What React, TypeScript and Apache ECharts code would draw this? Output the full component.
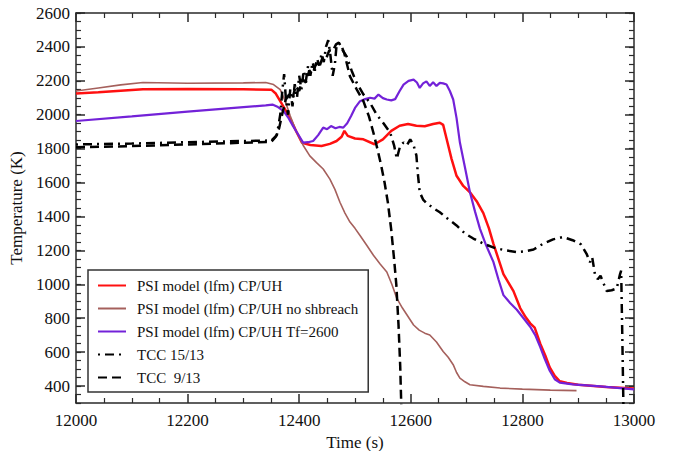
import React, { useEffect, useRef } from "react";
import * as echarts from "echarts";

const FONT = "'Liberation Serif', 'DejaVu Serif', serif";

const seriesNames = [
  "PSI model (lfm) CP/UH",
  "PSI model (lfm) CP/UH no shbreach",
  "PSI model (lfm) CP/UH Tf=2600",
  "TCC 15/13",
  "TCC  9/13",
];

const yMajorTicks = [400, 600, 800, 1000, 1200, 1400, 1600, 1800, 2000, 2200, 2400, 2600];

const redTime = [12000, 12040, 12080, 12120, 12200, 12300, 12350, 12358, 12366, 12375, 12385, 12395, 12405, 12420, 12440, 12455, 12467, 12476, 12481, 12487, 12500, 12515, 12535, 12550, 12565, 12580, 12595, 12610, 12625, 12640, 12652, 12658, 12664, 12673, 12682, 12694, 12706, 12718, 12730, 12740, 12748, 12757, 12766, 12775, 12784, 12796, 12806, 12814, 12822, 12832, 12841, 12849, 12858, 12867, 12880, 12900, 12950, 13000];
const redTemp = [2125, 2132, 2142, 2150, 2152, 2150, 2148, 2125, 2080, 2030, 1970, 1900, 1835, 1822, 1816, 1828, 1845, 1870, 1905, 1875, 1860, 1855, 1826, 1855, 1905, 1935, 1945, 1935, 1932, 1945, 1953, 1940, 1860, 1740, 1640, 1580, 1543, 1490, 1420, 1330, 1240, 1150, 1060, 1010, 960, 860, 805, 770, 745, 650, 580, 510, 460, 428, 418, 408, 395, 385];

const brownTime = [12000, 12040, 12080, 12120, 12200, 12300, 12340, 12354, 12366, 12375, 12384, 12395, 12407, 12419, 12431, 12443, 12455, 12464, 12473, 12482, 12491, 12500, 12509, 12521, 12533, 12545, 12557, 12566, 12575, 12585, 12595, 12605, 12615, 12625, 12634, 12646, 12658, 12667, 12676, 12682, 12688, 12697, 12706, 12730, 12760, 12800, 12850, 12897];
const brownTemp = [2140, 2158, 2176, 2190, 2186, 2188, 2190, 2178, 2148, 2080, 1992, 1900, 1820, 1757, 1718, 1680, 1620, 1560, 1484, 1420, 1367, 1330, 1288, 1230, 1171, 1120, 1073, 1000, 917, 860, 810, 760, 730, 712, 701, 660, 604, 570, 526, 480, 447, 425, 408, 398, 388, 382, 376, 373];

const purpleTime = [12000, 12100, 12200, 12300, 12340, 12352, 12362, 12372, 12380, 12389, 12398, 12407, 12416, 12425, 12434, 12443, 12450, 12457, 12465, 12472, 12479, 12486, 12493, 12500, 12509, 12518, 12527, 12535, 12542, 12550, 12557, 12565, 12572, 12580, 12587, 12596, 12605, 12611, 12616, 12622, 12628, 12634, 12640, 12646, 12652, 12658, 12664, 12670, 12676, 12682, 12688, 12697, 12706, 12715, 12724, 12735, 12748, 12757, 12766, 12778, 12790, 12802, 12814, 12823, 12832, 12840, 12849, 12858, 12867, 12890, 12940, 13000];
const purpleTemp = [1963, 1990, 2018, 2045, 2055, 2060, 2045, 2021, 1985, 1933, 1885, 1836, 1838, 1845, 1880, 1924, 1915, 1933, 1920, 1928, 1924, 1950, 1992, 2040, 2080, 2092, 2100, 2095, 2119, 2098, 2090, 2085, 2092, 2140, 2178, 2200, 2207, 2190, 2158, 2185, 2197, 2170, 2192, 2170, 2188, 2185, 2178, 2140, 2090, 1980, 1836, 1690, 1543, 1430, 1327, 1230, 1132, 1030, 936, 890, 850, 800, 750, 700, 630, 560, 490, 440, 420, 410, 398, 380];

const tcc15Time = [12000, 12100, 12200, 12300, 12350, 12360, 12366, 12370, 12373, 12376, 12380, 12384, 12388, 12392, 12396, 12400, 12404, 12408, 12412, 12416, 12420, 12424, 12428, 12432, 12436, 12440, 12444, 12448, 12452, 12456, 12460, 12464, 12467, 12472, 12478, 12485, 12494, 12503, 12515, 12527, 12539, 12551, 12563, 12570, 12575, 12578, 12581, 12587, 12593, 12599, 12605, 12610, 12613, 12616, 12622, 12628, 12640, 12652, 12665, 12682, 12697, 12712, 12730, 12750, 12770, 12790, 12805, 12820, 12837, 12855, 12873, 12890, 12905, 12915, 12921, 12925, 12930, 12935, 12940, 12951, 12960, 12969, 12975, 12977, 12979, 12981];
const tcc15Temp = [1825, 1830, 1838, 1845, 1848, 1880, 2000, 2150, 2240, 2100, 2000, 2150, 2050, 2180, 2100, 2230, 2150, 2260, 2200, 2290, 2230, 2310, 2260, 2330, 2290, 2360, 2310, 2400, 2440, 2350, 2230, 2300, 2412, 2420, 2380, 2344, 2260, 2188, 2120, 2070, 2000, 1950, 1894, 1820, 1740, 1780, 1816, 1836, 1820, 1855, 1820, 1760, 1640, 1543, 1500, 1480, 1450, 1425, 1390, 1347, 1300, 1270, 1240, 1215, 1200, 1190, 1195, 1205, 1239, 1265, 1279, 1260, 1235, 1180, 1130, 1160, 1060, 1030, 1050, 960, 965, 975, 1060, 1080, 700, 290];

const tcc9Time = [12000, 12100, 12200, 12300, 12350, 12358, 12364, 12370, 12376, 12382, 12388, 12394, 12400, 12406, 12412, 12418, 12424, 12430, 12436, 12442, 12448, 12454, 12460, 12466, 12471, 12476, 12481, 12491, 12503, 12515, 12525, 12533, 12540, 12547, 12553, 12559, 12565, 12570, 12574, 12578, 12581, 12583];
const tcc9Temp = [1808, 1815, 1825, 1835, 1840, 1870, 1920, 2010, 2090, 2120, 2100, 2170, 2140, 2210, 2190, 2260, 2240, 2300, 2280, 2340, 2330, 2380, 2375, 2415, 2425, 2405, 2360, 2226, 2150, 2080, 1990, 1894, 1800, 1700, 1600, 1480, 1320, 1150, 1000, 760, 520, 280];

const zip = (xs: number[], ys: number[]) => xs.map((x, i) => [x, ys[i]]);

const AXIS_COLOR = "#2a2a2a";
const TEXT_COLOR = "#111";
const plain = (v: number) => String(v);

export default function App() {
  const ref = useRef<HTMLDivElement>(null);
  useEffect(() => {
    if (!ref.current) return;
    const chart = echarts.init(ref.current, undefined, { renderer: "svg" });
    const axisLine = { show: true, lineStyle: { color: AXIS_COLOR, width: 1.5 } };
    const xCommon = {
      type: "value" as const,
      min: 12000,
      max: 13000,
      interval: 200,
      splitLine: { show: false },
      axisLine,
      axisTick: { show: true, inside: true, length: 9, lineStyle: { color: AXIS_COLOR, width: 1.5 } },
      minorTick: { show: true, splitNumber: 4, length: 5, lineStyle: { color: AXIS_COLOR, width: 1.2 } },
    };
    const yCommon = {
      type: "value" as const,
      min: 300,
      max: 2600,
      splitLine: { show: false },
    };
    const option = {
      animation: false,
      backgroundColor: "#ffffff",
      grid: { left: 76, right: 39, top: 13, bottom: 48, containLabel: false, outerBoundsMode: "none" },
      legend: {
        left: 88,
        top: 270,
        orient: "vertical",
        padding: [8, 10, 7, 9],
        itemGap: 8,
        itemWidth: 28,
        itemHeight: 14,
        borderColor: "#333",
        borderWidth: 1.5,
        backgroundColor: "#fff",
        itemStyle: { opacity: 0 },
        textStyle: { fontFamily: FONT, fontSize: 15, color: TEXT_COLOR, padding: [0, 0, 0, 6] },
        data: seriesNames,
      },
      xAxis: [
        {
          ...xCommon,
          position: "bottom",
          name: "Time (s)",
          nameLocation: "middle",
          nameGap: 28,
          nameTextStyle: { fontFamily: FONT, fontSize: 17, color: TEXT_COLOR },
          axisLabel: { fontFamily: FONT, fontSize: 17, color: TEXT_COLOR, margin: 9, formatter: plain },
        },
        {
          ...xCommon,
          position: "top",
          axisLabel: { show: false },
        },
      ],
      yAxis: [
        {
          ...yCommon,
          position: "left",
          axisLine,
          axisTick: { show: true, inside: true, length: 9, customValues: yMajorTicks, lineStyle: { color: AXIS_COLOR, width: 1.5 } },
          axisLabel: { customValues: yMajorTicks, fontFamily: FONT, fontSize: 17, color: TEXT_COLOR, margin: 6, formatter: plain },
          name: "Temperature (K)",
          nameLocation: "middle",
          nameGap: 48,
          nameTextStyle: { fontFamily: FONT, fontSize: 17, color: TEXT_COLOR },
        },
        {
          ...yCommon,
          position: "left",
          interval: 50,
          axisLine: { show: false },
          axisTick: { show: true, inside: true, length: 5, lineStyle: { color: AXIS_COLOR, width: 1.2 } },
          axisLabel: { show: false },
        },
        {
          ...yCommon,
          position: "right",
          axisLine,
          axisTick: { show: true, inside: true, length: 9, customValues: yMajorTicks, lineStyle: { color: AXIS_COLOR, width: 1.5 } },
          axisLabel: { show: false },
        },
        {
          ...yCommon,
          position: "right",
          interval: 50,
          axisLine: { show: false },
          axisTick: { show: true, inside: true, length: 5, lineStyle: { color: AXIS_COLOR, width: 1.2 } },
          axisLabel: { show: false },
        },
      ],
      series: [
        {
          name: seriesNames[0],
          type: "line",
          data: zip(redTime, redTemp),
          symbol: "none",
          lineStyle: { color: "#ff1010", width: 2.5 },
          itemStyle: { color: "#ff1010" },
        },
        {
          name: seriesNames[1],
          type: "line",
          data: zip(brownTime, brownTemp),
          symbol: "none",
          lineStyle: { color: "#a5605c", width: 1.6 },
          itemStyle: { color: "#a5605c" },
        },
        {
          name: seriesNames[2],
          type: "line",
          data: zip(purpleTime, purpleTemp),
          symbol: "none",
          lineStyle: { color: "#7322d8", width: 2.2 },
          itemStyle: { color: "#7322d8" },
        },
        {
          name: seriesNames[3],
          type: "line",
          data: zip(tcc15Time, tcc15Temp),
          symbol: "none",
          lineStyle: { color: "#000", width: 2.5, type: [2, 5, 9, 5] },
          itemStyle: { color: "#000" },
        },
        {
          name: seriesNames[4],
          type: "line",
          data: zip(tcc9Time, tcc9Temp),
          symbol: "none",
          lineStyle: { color: "#000", width: 2.5, type: [9, 5] },
          itemStyle: { color: "#000" },
        },
      ],
    };
    chart.setOption(option as any);
    return () => chart.dispose();
  }, []);
  return (
    <div
      ref={ref}
      style={{ position: "fixed", left: 0, top: 0, width: 673, height: 451 }}
    />
  );
}
